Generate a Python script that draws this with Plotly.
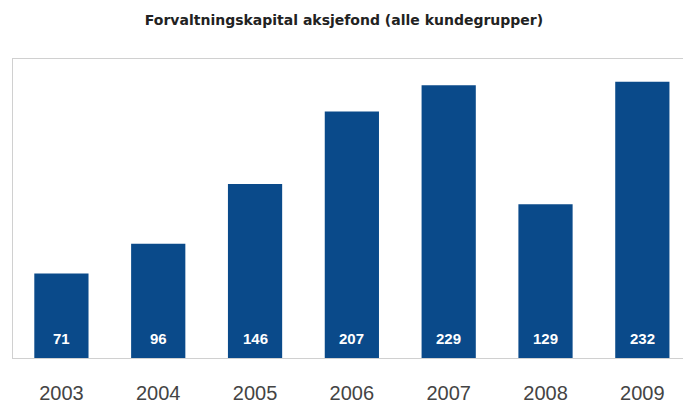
import plotly.graph_objects as go

# Forvaltningskapital per år (mrd. kr)
years = ["2003", "2004", "2005", "2006", "2007", "2008", "2009"]
values = [71, 96, 146, 207, 229, 129, 232]

bar_color = "#0a4a8a"
frame_color = "#d0d0d0"

fig = go.Figure()
fig.add_trace(go.Bar(
    x=years,
    y=values,
    width=0.56,
    marker=dict(color=bar_color, line=dict(width=0)),
    hoverinfo="x+y",
))

# Verdietiketter nederst i hver søyle (kategori-indeks som x-posisjon)
for i, v in enumerate(values):
    fig.add_annotation(
        x=i, y=0, xref="x", yref="y",
        text=f"<b>{v}</b>",
        showarrow=False,
        yanchor="middle",
        yshift=20,
        font=dict(family="Liberation Sans", size=15, color="white"),
    )

fig.update_layout(
    width=683,
    height=405,
    margin=dict(l=13, r=0, t=59, b=47),
    paper_bgcolor="white",
    plot_bgcolor="white",
    showlegend=False,
    title=dict(
        text="<b>Forvaltningskapital aksjefond (alle kundegrupper)</b>",
        x=(344 - 13) / 670,
        xanchor="center",
        xref="paper",
        y=1 - 20 / 405,
        yref="container",
        yanchor="middle",
        font=dict(family="DejaVu Sans", size=14, color="#222222"),
    ),
    xaxis=dict(
        type="category",
        range=[-0.5, 6.42],
        showline=True,
        mirror=True,
        linecolor=frame_color,
        linewidth=1,
        ticks="",
        showgrid=False,
        tickfont=dict(family="Liberation Sans", size=20, color="#444444"),
        ticklabelstandoff=17,
    ),
    yaxis=dict(
        range=[0, 251],
        showline=True,
        linecolor=frame_color,
        linewidth=1,
        showgrid=False,
        zeroline=False,
        showticklabels=False,
        ticks="",
    ),
)

fig.write_html("out.html")
